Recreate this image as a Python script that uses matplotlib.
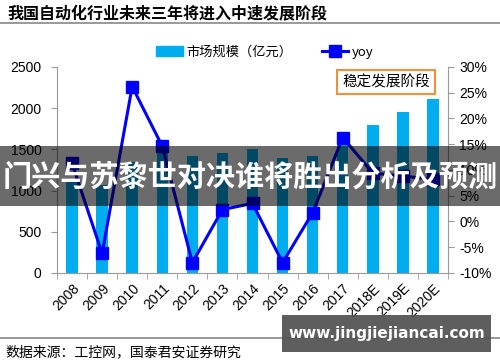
import matplotlib
matplotlib.use("Agg")
import matplotlib.pyplot as plt
from matplotlib.lines import Line2D
from matplotlib.patches import Patch, Rectangle
import numpy as np

plt.rcParams['font.family'] = ['Liberation Sans', 'Noto Sans CJK SC', 'DejaVu Sans']

years = ['2008', '2009', '2010', '2011', '2012', '2013', '2014', '2015', '2016', '2017', '2018E', '2019E', '2020E']
market = [1140, 1070, 1347, 1560, 1420, 1456, 1505, 1395, 1420, 1640, 1796, 1954, 2112]
yoy = [11.3, -6.2, 26.2, 14.6, -8.0, 2.3, 3.5, -8.0, 1.7, 16.3, 9.4, 8.8, 8.2]

title = '我国自动化行业未来三年将进入中速发展阶段'
source = '数据来源：工控网，国泰君安证券研究'
bar_label = '市场规模（亿元）'
line_label = 'yoy'
box_text = '稳定发展阶段'
banner = '门兴与苏黎世对决谁将胜出分析及预测'
watermark = 'www.jingjiejiancai.com'

cjk = ['Noto Sans CJK SC', 'DejaVu Sans']

fig = plt.figure(figsize=(5, 3.62), dpi=100)
ax = fig.add_axes([0.114, 0.246, 0.782, 0.569])
x = np.arange(len(years))
ax.bar(x, market, width=0.38, color='#00AEEF', zorder=2)
ax.set_xlim(-0.5, len(years) - 0.5)
ax.set_ylim(0, 2500)
ax.set_yticks(np.arange(0, 2501, 500))
ax.set_xticks(x)
ax.set_xticklabels(years, rotation=45, ha='right', rotation_mode='anchor', fontsize=10)
ax.set_xticks(np.arange(-0.5, len(years)), minor=True)
ax.tick_params(axis='x', which='major', length=0, pad=6)
ax.tick_params(axis='x', which='minor', length=4, color='#999999')
ax.tick_params(axis='y', length=4, color='#999999', labelsize=10, pad=7)
for s in ['top', 'right']:
    ax.spines[s].set_visible(False)
for s in ['left', 'bottom']:
    ax.spines[s].set_color('#999999')

ax2 = ax.twinx()
ax2.plot(x, yoy, color='#0000FF', lw=2.2, marker='s', markersize=8.5, zorder=3)
ax2.set_ylim(-10, 30)
ax2.set_yticks(np.arange(-10, 31, 5))
ax2.set_yticklabels([f'{v}%' for v in range(-10, 31, 5)])
ax2.tick_params(axis='y', length=4, color='#999999', labelsize=10, pad=4)
for s in ['top', 'left', 'bottom']:
    ax2.spines[s].set_visible(False)
ax2.spines['right'].set_color('#999999')

ax2.text(0.842, 0.927, box_text, transform=ax2.transAxes, ha='center', va='center',
         fontsize=10.5, family=cjk,
         bbox=dict(boxstyle='square,pad=0.35', fc='white', ec='#F0903A', lw=1.5))

handles = [Patch(color='#00AEEF'),
           Line2D([], [], color='#0000FF', lw=2.2, marker='s', markersize=8.5)]
leg = fig.legend(handles, [bar_label, line_label], loc='center', bbox_to_anchor=(0.53, 0.856),
                 ncol=2, frameon=False, columnspacing=2.2, handlelength=2.0,
                 handletextpad=0.3, prop={'family': cjk, 'size': 9.5})

fig.text(0.014, 0.963, title, fontsize=11.5, weight='bold', family=cjk, va='center')
fig.add_artist(Line2D([0, 1], [0.937, 0.937], color='#888888', lw=1.2, transform=fig.transFigure))
fig.add_artist(Line2D([0, 1], [0.066, 0.066], color='#888888', lw=1.2, transform=fig.transFigure))
fig.text(0.01, 0.028, source, fontsize=10, family=cjk, va='center')

fig.add_artist(Rectangle((0, 0.431), 1, 0.166, transform=fig.transFigure,
                         fc='black', alpha=0.58, zorder=10))
fig.text(0.5, 0.513, banner, fontsize=21, weight='bold', color='white', family=cjk,
         ha='center', va='center', zorder=11)
fig.add_artist(Rectangle((0.564, 0.028), 0.418, 0.102, transform=fig.transFigure,
                         fc='#555555', alpha=0.95, zorder=10))
fig.text(0.773, 0.079, watermark, fontsize=11, weight='bold', color='white',
         family=['DejaVu Sans'], ha='center', va='center', zorder=11)

fig.savefig('out.png', dpi=100)
